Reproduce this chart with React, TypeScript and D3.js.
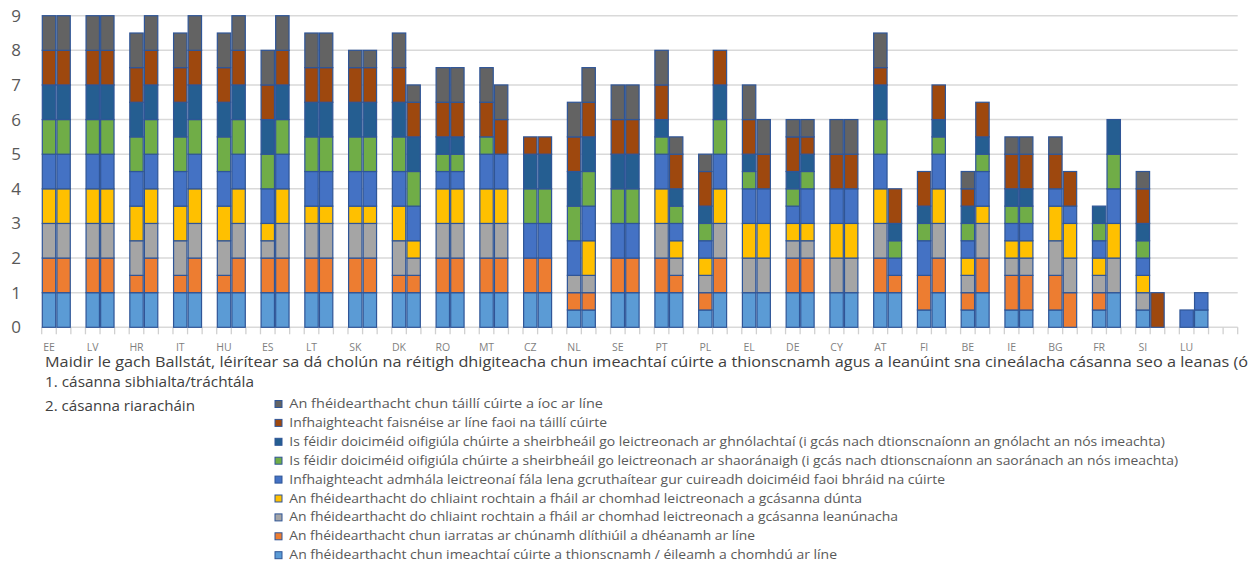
import React from "react";
import * as d3 from "d3";

const countries = ["EE","LV","HR","IT","HU","ES","LT","SK","DK","RO","MT","CZ","NL","SE","PT","PL","EL","DE","CY","AT","FI","BE","IE","BG","FR","SI","LU"];

// each country has two columns: 1 = civil/commercial, 2 = administrative
const s1 = [1,1, 1,1, 1,1, 1,1, 1,1, 1,1, 1,1, 1,1, 1,1, 1,1, 1,1, 1,1, 0.5,0.5, 1,1, 1,1, 0.5,1, 1,1, 1,1, 1,1, 1,1, 0.5,1, 0.5,1, 0.5,0.5, 0.5,0, 0.5,1, 0.5,0, 0,0.5];
const s2 = [1,1, 1,1, 0.5,1, 0.5,1, 0.5,1, 1,1, 1,1, 1,1, 0.5,0.5, 1,1, 1,1, 1,1, 0.5,0.5, 1,1, 1,0.5, 0.5,1, 0,0, 1,1, 0,0, 1,0.5, 1,1, 0.5,1, 1,1, 1,1, 0.5,0, 0,0, 0,0];
const s3 = [1,1, 1,1, 1,1, 1,1, 1,1, 0.5,1, 1,1, 1,1, 1,0.5, 1,1, 1,1, 0,0, 0.5,0.5, 0,0, 1,0.5, 0.5,1, 1,1, 0.5,0.5, 1,1, 1,0, 0,1, 0.5,1, 0.5,0.5, 1,1, 0.5,1, 0.5,0, 0,0];
const s4 = [1,1, 1,1, 1,1, 1,1, 1,1, 0.5,1, 0.5,0.5, 0.5,0.5, 1,0.5, 1,1, 1,1, 0,0, 0,1, 0,0, 1,0.5, 0.5,1, 1,1, 0.5,0.5, 1,1, 1,0, 0,1, 0.5,0.5, 0.5,0.5, 1,1, 0.5,1, 0.5,0, 0,0];
const s5 = [1,1, 1,1, 1,1, 1,1, 1,1, 1,1, 1,1, 1,1, 1,1, 0.5,0.5, 1,1, 1,1, 1,1, 1,1, 1,0.5, 0.5,1, 1,1, 0.5,1, 1,1, 1,0.5, 1,1, 0.5,1, 0.5,0.5, 0.5,0.5, 0.5,1, 0.5,0, 0.5,0.5];
const s6 = [1,1, 1,1, 1,1, 1,1, 1,1, 1,1, 1,1, 1,1, 1,1, 0.5,0.5, 0.5,0, 1,1, 1,1, 1,1, 0.5,0.5, 0.5,1, 0.5,0, 0.5,0.5, 0,0, 1,0.5, 0.5,0.5, 0.5,0.5, 0.5,0.5, 0,0, 0.5,1, 0.5,0, 0,0];
const s7 = [1,1, 1,1, 1,1, 1,1, 1,1, 1,1, 1,1, 1,1, 1,1, 0.5,0.5, 0,0, 1,1, 1,1, 1,1, 0.5,0.5, 0.5,1, 0.5,0, 0.5,0.5, 0,0, 1,0.5, 0.5,0.5, 0.5,0.5, 0.5,0.5, 0,0, 0.5,1, 0.5,0, 0,0];
const s8 = [1,1, 1,1, 1,1, 1,1, 1,1, 1,1, 1,1, 1,1, 1,1, 1,1, 1,1, 0.5,0.5, 1,1, 1,1, 1,1, 1,1, 1,1, 1,0.5, 1,1, 0.5,1, 1,1, 0.5,1, 1,1, 1,1, 0,0, 1,1, 0,0];
const s9 = [1,1, 1,1, 1,1, 1,1, 1,1, 1,1, 1,1, 0.5,0.5, 1,0.5, 1,1, 1,1, 0,0, 1,1, 1,1, 1,0.5, 0.5,0, 1,1, 0.5,0.5, 1,1, 1,0, 0,0, 0.5,0, 0.5,0.5, 0.5,0, 0,0, 0.5,0, 0,0];

const seriesNames = [
  "An fhéidearthacht chun imeachtaí cúirte a thionscnamh / éileamh a chomhdú ar líne",
  "An fhéidearthacht chun iarratas ar chúnamh dlíthiúil a dhéanamh ar líne",
  "An fhéidearthacht do chliaint rochtain a fháil ar chomhad leictreonach a gcásanna leanúnacha",
  "An fhéidearthacht do chliaint rochtain a fháil ar chomhad leictreonach a gcásanna dúnta",
  "Infhaighteacht admhála leictreonaí fála lena gcruthaítear gur cuireadh doiciméid faoi bhráid na cúirte",
  "Is féidir doiciméid oifigiúla chúirte a sheirbheáil go leictreonach ar shaoránaigh (i gcás nach dtionscnaíonn an saoránach an nós imeachta)",
  "Is féidir doiciméid oifigiúla chúirte a sheirbheáil go leictreonach ar ghnólachtaí (i gcás nach dtionscnaíonn an gnólacht an nós imeachta)",
  "Infhaighteacht faisnéise ar líne faoi na táillí cúirte",
  "An fhéidearthacht chun táillí cúirte a íoc ar líne",
];
const seriesColors = ["#5B9BD5","#ED7D31","#A5A5A5","#FFC000","#4472C4","#70AD47","#255E91","#9E480E","#636363"];
const yTicks = [0,1,2,3,4,5,6,7,8,9];
const caption = "Maidir le gach Ballstát, léirítear sa dá cholún na réitigh dhigiteacha chun imeachtaí cúirte a thionscnamh agus a leanúint sna cineálacha cásanna seo a leanas (ó";
const noteLines = ["1. cásanna sibhialta/tráchtála", "2. cásanna riaracháin"];

const W = 1260, H = 567;
const plotL = 41.7, plotR = 1237.7, y0 = 327.3, y9 = 15.7;
const nSlots = countries.length * 3 + 1;
const allSeries = [s1,s2,s3,s4,s5,s6,s7,s8,s9];
const legendEnds = [603, 607, 1165, 1178, 945, 862, 898, 755, 837]; // in top-to-bottom order

export default function App() {
  const keys = allSeries.map((_, i) => "s" + i);
  const rows = s1.map((_, b) => {
    const r: any = { slot: Math.floor(b / 2) * 3 + (b % 2) };
    allSeries.forEach((s, i) => (r["s" + i] = s[b]));
    return r;
  });
  const stacked = d3.stack().keys(keys)(rows);
  const x = d3.scaleBand<number>().domain(d3.range(nSlots)).range([plotL, plotR]).padding(0);
  const y = d3.scaleLinear().domain([0, 9]).range([y0, y9]);
  const bw = x.bandwidth();
  const tickXs = d3.range(nSlots + 1).map((i) => plotL + i * bw);

  const legendOrder = d3.range(9).reverse();

  return (
    <div style={{ position: "absolute", left: 0, top: 0 }}>
      <svg width={W} height={H} style={{ display: "block", background: "#fff" }} fontFamily="'Open Sans', 'Liberation Sans', sans-serif">
        {yTicks.map((t) => (
          <g key={t}>
            <line x1={plotL} x2={plotR} y1={y(t)} y2={y(t)} stroke="#d9d9d9" strokeWidth={1.5} />
            <text x={21} y={y(t) + 6} textAnchor="end" fontSize={17} fill="#595959">{t}</text>
          </g>
        ))}
        {tickXs.map((tx, i) => (
          <line key={i} x1={tx} x2={tx} y1={y0} y2={y0 + 7} stroke="#d0d0d0" strokeWidth={1.3} />
        ))}
        {stacked.map((layer, li) => (
          <g key={li} fill={seriesColors[li]}>
            {layer.map((d: any, bi) => {
              const h = y(d[0]) - y(d[1]);
              if (h <= 0.01) return null;
              return (
                <rect key={bi} x={x(d.data.slot)! + 0.6} width={bw - 1.2} y={y(d[1])} height={h}
                  stroke="#2F5597" strokeWidth={1.2} />
              );
            })}
          </g>
        ))}
        {countries.map((c, i) => (
          <text key={c} x={x(i * 3)! + bw / 2} y={351} textAnchor="middle" fontSize={10.5} fill="#7f7f7f">{c}</text>
        ))}
        <text x={45} y={366.5} fontSize={14.5} fill="#404040" textLength={1203} lengthAdjust="spacingAndGlyphs">{caption}</text>
        <text x={45} y={387} fontSize={14} fill="#404040" textLength={209} lengthAdjust="spacingAndGlyphs">{noteLines[0]}</text>
        <text x={45} y={411} fontSize={14} fill="#404040" textLength={150} lengthAdjust="spacingAndGlyphs">{noteLines[1]}</text>
        {legendOrder.map((si, k) => {
          const cy = 404 + k * 18.9;
          return (
            <g key={si}>
              <rect x={275} y={cy - 3.5} width={7} height={7} fill={seriesColors[si]} stroke="#2F5597" strokeWidth={1} />
              <text x={289.3} y={cy + 4} fontSize={12} fill="#595959" textLength={legendEnds[k] - 289.3} lengthAdjust="spacingAndGlyphs">{seriesNames[si]}</text>
            </g>
          );
        })}
      </svg>
    </div>
  );
}
